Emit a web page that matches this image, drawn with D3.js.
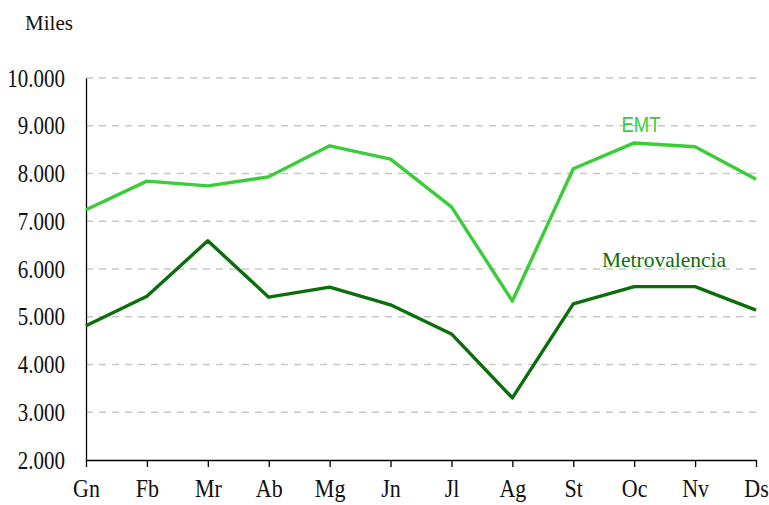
<!DOCTYPE html>
<html>
<head>
<meta charset="utf-8">
<script src="https://cdn.jsdelivr.net/npm/d3@7"></script>
<style>
  body { margin: 0; background: #fff; }
  svg text { font-family: "Liberation Serif", "Times New Roman", serif; }
</style>
</head>
<body>
<svg id="chart" width="769" height="505"></svg>
<script>
// months (Valencian abbreviations)
var months = ["Gn", "Fb", "Mr", "Ab", "Mg", "Jn", "Jl", "Ag", "St", "Oc", "Nv", "Ds"];
var emt = [7240, 7840, 7740, 7930, 8580, 8300, 7300, 5330, 8100, 8640, 8560, 7880];
var metro = [4810, 5430, 6590, 5410, 5620, 5250, 4640, 3300, 5270, 5630, 5630, 5140];
var yTicks = [2000, 3000, 4000, 5000, 6000, 7000, 8000, 9000, 10000];

var svg = d3.select("#chart");
var margin = {left: 86, right: 13, top: 78, bottom: 45};
var width = 769 - margin.left - margin.right;
var height = 505 - margin.top - margin.bottom;

var fmt = function(d) { return d3.format(",")(d).replace(/,/g, "."); };

var x = d3.scalePoint().domain(months).range([0, width]).padding(0);
var y = d3.scaleLinear().domain([2000, 10000]).range([height, 0]);

var g = svg.append("g").attr("transform", "translate(" + margin.left + "," + margin.top + ")");

// dashed gridlines
g.append("g")
  .selectAll("line")
  .data(yTicks.slice(1))
  .enter().append("line")
    .attr("x1", 0).attr("x2", width)
    .attr("y1", function(d) { return y(d); })
    .attr("y2", function(d) { return y(d); })
    .attr("stroke", "#c8c8c8")
    .attr("stroke-width", 1.5)
    .attr("stroke-dasharray", "7,6");

// y axis (labels are a bit tall and narrow in the original)
var yAxis = g.append("g")
  .call(d3.axisLeft(y).tickValues(yTicks).tickFormat(fmt).tickSize(0).tickPadding(21));
yAxis.select(".domain").attr("stroke", "#000").attr("stroke-width", 1.3);
yAxis.selectAll("text")
  .attr("font-size", 21)
  .attr("fill", "#111")
  .attr("x", null).attr("dy", null)
  .attr("transform", "translate(-21,8) scale(1,1.22)");

// x axis
var xAxis = g.append("g")
  .attr("transform", "translate(0," + height + ")")
  .call(d3.axisBottom(x).tickSizeOuter(0).tickSizeInner(7));
xAxis.select(".domain").attr("stroke", "#000").attr("stroke-width", 1.3);
xAxis.selectAll(".tick line").attr("stroke", "#000").attr("stroke-width", 1.3);
xAxis.selectAll("text")
  .attr("font-size", 22)
  .attr("fill", "#111")
  .attr("y", null).attr("dy", null)
  .attr("transform", "translate(0,37) scale(1,1.18)");

var line = d3.line()
  .x(function(d, i) { return x(months[i]); })
  .y(function(d) { return y(d); });

g.append("path")
  .datum(emt)
  .attr("fill", "none")
  .attr("stroke", "#3acd3a")
  .attr("stroke-width", 3.4)
  .attr("stroke-linejoin", "round")
  .attr("d", line);

g.append("path")
  .datum(metro)
  .attr("fill", "none")
  .attr("stroke", "#0a6e0a")
  .attr("stroke-width", 3.4)
  .attr("stroke-linejoin", "round")
  .attr("d", line);

// series labels
svg.append("text")
  .attr("text-anchor", "middle")
  .attr("font-size", 18.5)
  .style("font-family", "'Liberation Sans', Arial, sans-serif")
  .attr("fill", "#3acd3a")
  .attr("transform", "translate(641,132) scale(1,1.15)")
  .text("EMT");

svg.append("text")
  .attr("x", 664).attr("y", 267)
  .attr("text-anchor", "middle")
  .attr("font-size", 21.5)
  .attr("fill", "#0a6e0a")
  .text("Metrovalencia");

// unit label
svg.append("text")
  .attr("x", 49).attr("y", 30)
  .attr("text-anchor", "middle")
  .attr("font-size", 21)
  .attr("fill", "#111")
  .text("Miles");
</script>
</body>
</html>
